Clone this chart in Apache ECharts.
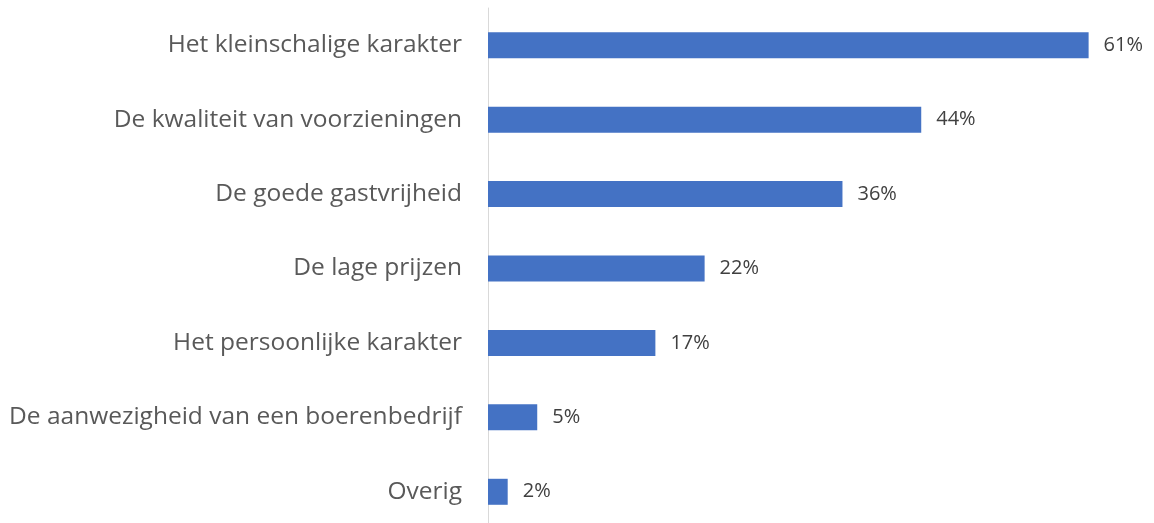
<!DOCTYPE html>
<html>
<head>
<meta charset="utf-8">
<script src="https://cdn.jsdelivr.net/npm/echarts@6/dist/echarts.min.js"></script>
<style>
  html, body { margin: 0; padding: 0; background: #fff; overflow: hidden; }
  #container { width: 1154px; height: 532px; }
</style>
</head>
<body>
<div id="container"></div>
<script>
var categories = [
    'Het kleinschalige karakter',
    'De kwaliteit van voorzieningen',
    'De goede gastvrijheid',
    'De lage prijzen',
    'Het persoonlijke karakter',
    'De aanwezigheid van een boerenbedrijf',
    'Overig'
];
var values = [61, 44, 36, 22, 17, 5, 2];

var dom = document.getElementById('container');
var myChart = echarts.init(dom);
var option = {
    animation: false,
    grid: {
        left: 488,
        top: 8,
        width: 640,
        height: 521
    },
    xAxis: {
        type: 'value',
        min: 0,
        max: 65,
        show: false
    },
    yAxis: {
        type: 'category',
        inverse: true,
        data: categories,
        axisLine: { show: true, lineStyle: { color: '#d9d9d9', width: 1 } },
        axisTick: { show: false },
        axisLabel: {
            margin: 26,
            fontFamily: 'Open Sans',
            fontSize: 24.5,
            color: '#595959'
        }
    },
    series: [
        {
            type: 'bar',
            data: values,
            barWidth: 26,
            itemStyle: { color: '#4472C4' },
            label: {
                show: true,
                position: 'right',
                distance: 15,
                formatter: '{c}%',
                fontFamily: 'Open Sans',
                fontSize: 20,
                color: '#404040'
            }
        }
    ]
};
myChart.setOption(option);
</script>
</body>
</html>
